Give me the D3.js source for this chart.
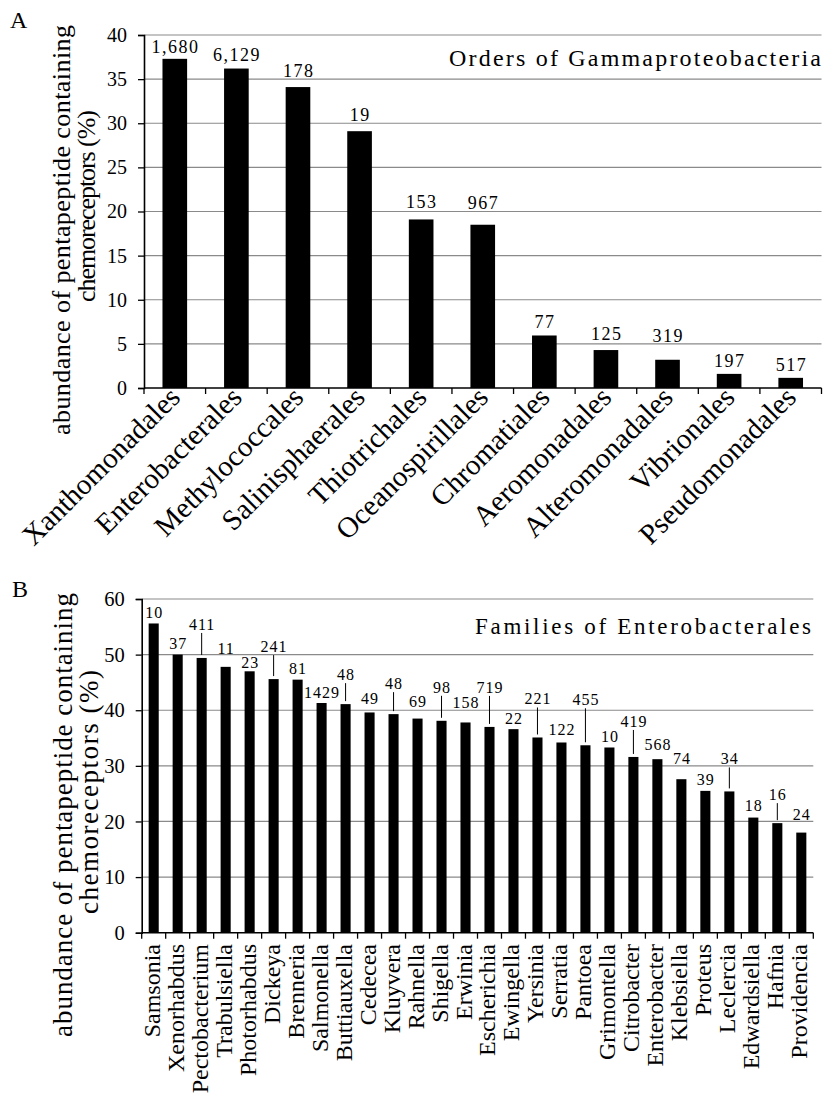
<!DOCTYPE html>
<html>
<head>
<meta charset="utf-8">
<script src="https://cdn.jsdelivr.net/npm/d3@7"></script>
<style>
  html, body { margin: 0; padding: 0; background: #fff; }
  svg { display: block; }
  svg text { font-family: 'Liberation Serif', 'Times New Roman', Tinos, serif; }
</style>
</head>
<body>
<svg id="fig" width="825" height="1097"></svg>
<script>
// Panel A: orders of Gammaproteobacteria
const orders = ["Xanthomonadales", "Enterobacterales", "Methylococcales", "Salinisphaerales",
  "Thiotrichales", "Oceanospirillales", "Chromatiales", "Aeromonadales",
  "Alteromonadales", "Vibrionales", "Pseudomonadales"];
const orderPct = [37.3, 36.2, 34.1, 29.1, 19.1, 18.5, 5.95, 4.3, 3.2, 1.6, 1.15];
const orderCounts = ["1,680", "6,129", "178", "19", "153", "967", "77", "125", "319", "197", "517"];
const orderTicks = [0, 5, 10, 15, 20, 25, 30, 35, 40];

// Panel B: genera of Enterobacterales
const genera = ["Samsonia", "Xenorhabdus", "Pectobacterium", "Trabulsiella", "Photorhabdus",
  "Dickeya", "Brenneria", "Salmonella", "Buttiauxella", "Cedecea", "Kluyvera", "Rahnella",
  "Shigella", "Erwinia", "Escherichia", "Ewingella", "Yersinia", "Serratia", "Pantoea",
  "Grimontella", "Citrobacter", "Enterobacter", "Klebsiella", "Proteus", "Leclercia",
  "Edwardsiella", "Hafnia", "Providencia"];
const generaPct = [55.6, 50.0, 49.4, 47.8, 47.0, 45.6, 45.5, 41.3, 41.1, 39.6, 39.3, 38.5,
  38.1, 37.8, 37.0, 36.6, 35.1, 34.2, 33.7, 33.3, 31.6, 31.2, 27.6, 25.5, 25.4,
  20.7, 19.7, 18.0];
const generaCounts = ["10", "37", "411", "11", "23", "241", "81", "1429", "48", "49", "48", "69",
  "98", "158", "719", "22", "221", "122", "455", "10", "419", "568", "74", "39", "34",
  "18", "16", "24"];
const generaTicks = [0, 10, 20, 30, 40, 50, 60];

const svg = d3.select("#fig");

// Gap (px) between bar top and count label baseline; large gaps get a leader line
const liftA = [6, 8, 10, 10, 11, 16, 7, 10, 18, 7, 7];
const liftB = [5, 6, 28, 13, 3, 27, 6, 5, 24, 8, 25, 12, 28, 14, 34, 5, 33, 7, 40, 5, 30, 9,
  15, 6, 27, 7, 23, 13];

function drawPanel(cfg) {
  const g = svg.append("g");
  const x = d3.scaleBand().domain(cfg.cats).range([cfg.left, cfg.right])
    .paddingInner(cfg.pad).paddingOuter(cfg.pad / 2);
  const y = d3.scaleLinear().domain([0, d3.max(cfg.ticks)]).range([cfg.bottom, cfg.top]);

  // horizontal gridlines
  g.append("g").selectAll("line").data(cfg.ticks.filter(t => t > 0)).join("line")
    .attr("x1", cfg.left).attr("x2", cfg.right)
    .attr("y1", d => y(d)).attr("y2", d => y(d))
    .attr("stroke", "#8a8a8a").attr("stroke-width", 1.2);

  // bars
  g.append("g").selectAll("rect").data(cfg.values).join("rect")
    .attr("x", (d, i) => x(cfg.cats[i]))
    .attr("width", x.bandwidth())
    .attr("y", d => y(d))
    .attr("height", d => y(0) - y(d))
    .attr("fill", "#000");

  // y axis
  const yAxis = d3.axisLeft(y).tickValues(cfg.ticks).tickSize(6).tickPadding(11)
    .tickFormat(d3.format("d"));
  const ya = g.append("g").attr("transform", `translate(${cfg.left},0)`).call(yAxis);
  ya.attr("font-family", null);
  ya.select(".domain").attr("stroke", "#000").attr("stroke-width", 1.6);
  ya.selectAll(".tick line").attr("stroke", "#000").attr("stroke-width", 1.3);
  ya.selectAll(".tick text").attr("font-size", cfg.tickFont).attr("fill", "#000");

  // x axis line with ticks at band boundaries
  const xa = g.append("g");
  xa.append("line").attr("x1", cfg.left).attr("x2", cfg.right)
    .attr("y1", y(0)).attr("y2", y(0)).attr("stroke", "#000").attr("stroke-width", 1.6);
  const step = x.step();
  const bounds = d3.range(cfg.cats.length + 1).map(i => cfg.left + i * step);
  xa.selectAll("line.tk").data(bounds).join("line").attr("class", "tk")
    .attr("x1", d => d).attr("x2", d => d)
    .attr("y1", y(0)).attr("y2", y(0) + 6)
    .attr("stroke", "#000").attr("stroke-width", 1.3);

  // category labels
  g.append("g").selectAll("text").data(cfg.cats).join("text")
    .attr("transform", d => `translate(${x(d) + x.bandwidth() / 2 + cfg.catDx},${cfg.catY}) rotate(${cfg.catAngle})`)
    .attr("text-anchor", "end")
    .attr("font-size", cfg.catFont)
    .text(d => d);

  // count labels and leader lines
  const lab = g.append("g");
  cfg.counts.forEach((c, i) => {
    const cx = x(cfg.cats[i]) + x.bandwidth() / 2;
    const top = y(cfg.values[i]);
    const base = top - cfg.lift[i];
    lab.append("text").attr("x", cx + cfg.labDx).attr("y", base)
      .attr("text-anchor", "middle")
      .attr("font-size", cfg.labFont)
      .attr("letter-spacing", cfg.labSpacing)
      .text(c);
    if (cfg.lift[i] > 20) {
      lab.append("line").attr("x1", cx).attr("x2", cx)
        .attr("y1", base + 3).attr("y2", top - 3)
        .attr("stroke", "#000").attr("stroke-width", 1);
    }
  });

  // panel title
  g.append("text").attr("x", cfg.titleX).attr("y", cfg.titleY)
    .attr("font-size", cfg.titleFont)
    .attr("textLength", cfg.titleLen).attr("lengthAdjust", "spacing")
    .text(cfg.title);

  // y axis title, two lines
  cfg.yTitle.forEach(t => {
    g.append("text")
      .attr("transform", `translate(${t.x},${t.cy}) rotate(-90)`)
      .attr("text-anchor", "middle")
      .attr("font-size", cfg.yTitleFont)
      .attr("textLength", t.len).attr("lengthAdjust", "spacing")
      .text(t.text);
  });

  // panel letter
  g.append("text").attr("x", cfg.letterX).attr("y", cfg.letterY)
    .attr("font-size", 24).text(cfg.letter);
}

drawPanel({
  cats: orders, values: orderPct, counts: orderCounts, ticks: orderTicks, lift: liftA,
  left: 144, right: 821.5, top: 35, bottom: 388, pad: 0.6,
  tickFont: 20, catFont: 29, catAngle: -45, catDx: 7, catY: 399,
  labFont: 18, labSpacing: 1.5, labDx: 0.7,
  title: "Orders of Gammaproteobacteria", titleX: 449, titleY: 66, titleFont: 24, titleLen: 372,
  yTitleFont: 26,
  yTitle: [
    { text: "abundance of pentapeptide containing", x: 70, cy: 230, len: 410 },
    { text: "chemoreceptors (%)", x: 95, cy: 206, len: 192 }
  ],
  letter: "A", letterX: 10, letterY: 28
});

drawPanel({
  cats: genera, values: generaPct, counts: generaCounts, ticks: generaTicks, lift: liftB,
  left: 141.7, right: 813.3, top: 599, bottom: 932.7, pad: 0.58,
  tickFont: 20.5, catFont: 24, catAngle: -90, catDx: 6, catY: 944,
  labFont: 16, labSpacing: 1, labDx: 0.5,
  title: "Families of Enterobacterales", titleX: 475, titleY: 633.5, titleFont: 23, titleLen: 336,
  yTitleFont: 27,
  yTitle: [
    { text: "abundance of pentapeptide containing", x: 71.5, cy: 815, len: 444 },
    { text: "chemoreceptors (%)", x: 98, cy: 792, len: 244 }
  ],
  letter: "B", letterX: 12, letterY: 597
});
</script>
</body>
</html>
